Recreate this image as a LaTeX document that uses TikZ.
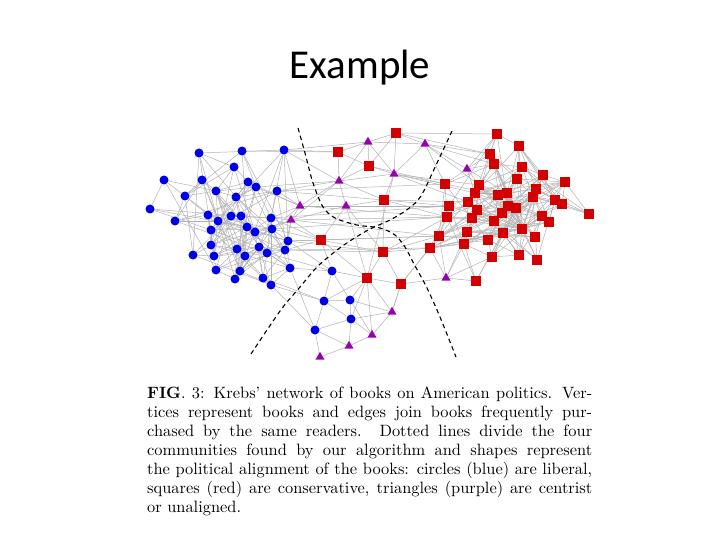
\documentclass[tikz,border=0pt]{standalone}
\usepackage{fontspec}
\newfontfamily\titlefont{Carlito}
\newfontfamily\capfont{lmroman10-regular.otf}[BoldFont=lmroman10-bold.otf,Ligatures=TeX]
\usetikzlibrary{shapes.geometric}
\definecolor{libblue}{RGB}{0,0,230}
\definecolor{conred}{RGB}{210,0,0}
\definecolor{cenpurple}{RGB}{150,0,175}
\definecolor{edgegray}{RGB}{178,178,178}
\pgfdeclarelayer{bg}
\pgfsetlayers{bg,main}
\tikzset{
  lib/.style={circle,fill=libblue,minimum size=9pt,inner sep=0pt},
  con/.style={rectangle,fill=conred,minimum size=9.5pt,inner sep=0pt},
  cen/.style={regular polygon,regular polygon sides=3,fill=cenpurple,minimum size=10.5pt,inner sep=0pt},
  link/.style={draw=edgegray,line width=0.5pt},
  divider/.style={draw=black,line width=1.1pt,dash pattern=on 4.5pt off 3.5pt},
}
\def\BlueList{199/153,242/151,284/150,234/167,164/180,202/180,248/182,256/187,216/191,277/191,185/196,236/197,150/209,175/221,208/215,218/221,231/216,241/216,271/218,211/230,247/227,255/232,272/229,288/241,211/245,237/249,259/247,193/255,214/256,245/256,267/253,285/250,290/268,216/270,240/271,235/279,263/278,271/285,332/271,324/301,350/300,351/319,315/330}
\def\RedList{396/133,338/152,369/166,384/200,321/240,383/252,367/278,401/284,445/184,449/206,447/217,439/236,430/248,497/134,519/146,490/154,494/164,522/167,543/175,517/179,565/182,479/185,475/193,536/189,507/193,498/195,533/197,468/202,555/200,562/204,508/206,516/208,477/210,502/213,589/214,472/218,542/216,494/221,549/222,522/229,467/232,503/233,535/237,488/240,464/244,492/257,519/255,537/260,476/281}
\def\PurpleList{368/142,425/144,394/174,339/181,346/206,300/206,291/220,467/169,446/278,392/312,372/335,349/346,320/357}
% automatic links inside a cluster: #1 list, #2 name prefix, #3 lowest index-1, #4 highest index+1
\newcommand\clusterlinks[4]{%
  \foreach [count=\i] \xa/\ya in #1 {%
    \foreach [count=\j] \xb/\yb in #1 {%
      \ifnum\j>\i \ifnum\i>#3 \ifnum\j<#4
        \pgfmathsetmacro\dd{veclen(\xa-\xb,\ya-\yb)}%
        \pgfmathtruncatemacro\hh{mod(\i*31+\j*17+mod(\i*\j,89)*7,100)}%
        \pgfmathsetmacro\pp{88*exp(-\dd/40)}%
        \ifdim\hh pt<\pp pt \draw[link] (#2\i) -- (#2\j);\fi
      \fi\fi\fi
    }%
  }%
}
\begin{document}
\begin{tikzpicture}[x=1pt,y=-1pt]
\useasboundingbox (0,0) rectangle (720,540);
% title
\node[anchor=base,inner sep=0pt,font=\titlefont\fontsize{41}{49}\selectfont] (title) at (360,79) {Example};
% vertices
\foreach [count=\k] \x/\y in \BlueList {\node[lib] (b\k) at (\x,\y) {};}
\foreach [count=\k] \x/\y in \RedList {\node[con] (r\k) at (\x,\y) {};}
\foreach [count=\k] \x/\y in \PurpleList {\node[cen] (p\k) at (\x,\y) {};}
\begin{pgfonlayer}{bg}
  \clusterlinks{\BlueList}{b}{0}{39}
  \clusterlinks{\RedList}{r}{8}{50}
  \foreach \u/\v in {r1/p1,r1/p3,r1/p2,r1/r14,r1/r16,r1/r3,
    p1/r2,p1/r3,p1/p3,p1/p4,p1/p2,p1/b3,
    r2/b3,r2/p4,r2/r3,r2/b2,
    r3/p3,r3/p4,r3/r9,
    p2/p3,p2/r16,p2/r17,p2/r9,p2/p8,p2/r22,
    p3/r4,p3/r9,p3/p4,p3/r22,p3/r28,p3/r23,p3/r7,
    p4/p5,p4/p6,p4/r4,p4/b10,p4/b8,p4/b3,p4/p7,
    r4/r10,r4/r11,r4/p5,r4/r6,r4/r28,r4/b10,
    p5/p6,p5/r10,p5/r6,p5/r7,p5/r5,p5/p7,
    p6/p7,p6/b19,p6/b10,p6/b23,p6/r10,p6/b7,p6/r11,p6/b8,
    p7/r5,p7/b23,p7/b24,p7/b19,p7/r12,p7/b32,p7/r11,p7/b22,
    r5/r6,r5/r12,r5/b24,r5/b32,r5/r7,r5/b39,r5/b19,r5/b23,
    r6/r7,r6/r13,r6/r12,r6/r8,r6/r11,r6/b24,r6/b32,
    r7/b39,r7/b41,r7/b40,r7/r8,r7/p10,r7/p11,r7/b42,
    r8/r13,r8/p10,r8/p9,r8/r12,
    b39/b40,b39/b41,b39/b33,b39/b31,b39/b24,
    b40/b41,b40/b43,b40/b38,b40/b42,b40/b37,
    b41/b42,b41/p11,
    b42/p11,b42/p10,b42/b43,b42/p12,
    b43/p13,b43/b38,b43/b33,b43/p12,
    p12/p11,p12/p13,p11/p10,p10/r8,p10/b41,
    p9/r13,p9/r12,p9/r49,p9/r45,p9/r41,p9/r46,
    p8/r17,p8/r22,p8/r9,p8/r16,p8/r23,p8/r25,p8/r14,
    b10/r9,b19/r10,b24/r12,b32/r13,b23/r11,b3/p6}
    {\draw[link] (\u) -- (\v);}
  % community dividers
  \draw[divider] plot[smooth] coordinates {(298,128) (305,153) (313,183) (323,207) (335,218) (357,225) (380,228) (395,235) (405,247) (414,264) (427,288) (440,317) (456,357)};
  \draw[divider] plot[smooth] coordinates {(452,131) (437,163) (421,196) (408,209) (390,220) (370,229) (353,239) (337,250) (317,267) (300,287) (283,307) (267,330) (251,354)};
\end{pgfonlayer}
% caption
\node[anchor=base west,inner sep=0pt] (caption) at (147,398) {\vtop{\capfont\fontsize{16.4}{19}\selectfont
  \hbox to 445pt{\textbf{FIG}. 3: Krebs’ network of books on American politics. Ver-}
  \hbox to 445pt{tices represent books and edges join books frequently pur-}
  \hbox to 445pt{chased by the same readers. Dotted lines divide the four}
  \hbox to 445pt{communities found by our algorithm and shapes represent}
  \hbox to 445pt{the political alignment of the books: circles (blue) are liberal,}
  \hbox to 445pt{squares (red) are conservative, triangles (purple) are centrist}
  \hbox{or unaligned.}}};
\end{tikzpicture}
\end{document}
